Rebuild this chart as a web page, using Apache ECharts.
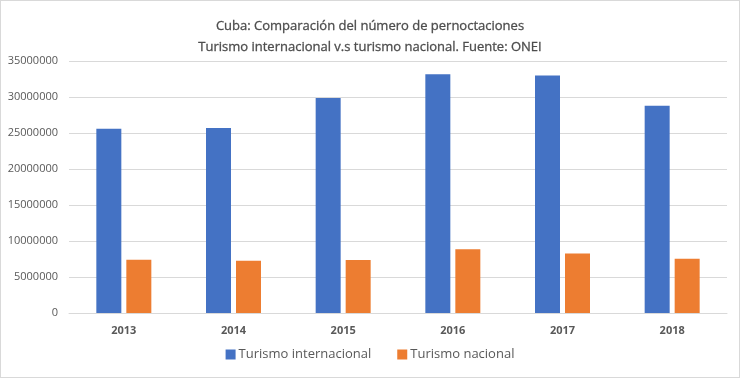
<!DOCTYPE html>
<html>
<head>
<meta charset="utf-8">
<script src="https://cdn.jsdelivr.net/npm/echarts@6/dist/echarts.min.js"></script>
<style>
  html, body { margin: 0; padding: 0; background: #fff; }
  #chart { width: 738px; height: 376px; border: 1px solid #d9d9d9; }
</style>
</head>
<body>
<div id="chart"></div>
<script>
// años
var years = ['2013', '2014', '2015', '2016', '2017', '2018'];
// pernoctaciones turismo internacional
var internacional = [25600000, 25700000, 29850000, 33150000, 33000000, 28800000];
// pernoctaciones turismo nacional
var nacional = [7400000, 7260000, 7350000, 8850000, 8270000, 7530000];
var seriesNames = ['Turismo internacional', 'Turismo nacional'];

var chartObj = echarts.init(document.getElementById('chart'));

var txtColor = '#595959';
var fontFam = '"Open Sans", "Noto Sans", sans-serif';

var option = {
	title: {
		text: 'Cuba: Comparación del número de pernoctaciones\nTurismo internacional v.s turismo nacional. Fuente: ONEI',
		left: 'center',
		top: 10,
		textStyle: {
			color: '#4d4d4d',
			fontSize: 13,
			fontWeight: 'normal',
			fontFamily: fontFam,
			lineHeight: 21,
			textBorderColor: '#4d4d4d',
			textBorderWidth: 0.3
		}
	},
	legend: {
		data: seriesNames,
		bottom: 11,
		left: 'center',
		itemWidth: 10,
		itemHeight: 10,
		itemGap: 26,
		icon: 'rect',
		textStyle: { color: txtColor, fontSize: 13, fontFamily: fontFam, padding: [0, 0, 0, -2] }
	},
	grid: { left: 68, right: 12, top: 60, bottom: 64, containLabel: false },
	xAxis: {
		type: 'category',
		data: years,
		axisLine: { lineStyle: { color: '#d9d9d9' } },
		axisTick: { show: false },
		axisLabel: { color: txtColor, fontSize: 11, fontWeight: 'bold', fontFamily: fontFam, margin: 12 }
	},
	yAxis: {
		type: 'value',
		min: 0,
		max: 35000000,
		interval: 5000000,
		axisLine: { show: false },
		axisTick: { show: false },
		splitLine: { lineStyle: { color: '#d9d9d9' } },
		axisLabel: {
			color: txtColor, fontSize: 11, fontFamily: fontFam, margin: 11,
			formatter: function (v) { return String(v); }
		}
	},
	series: [
		{
			name: seriesNames[0],
			type: 'bar',
			data: internacional,
			barWidth: 25,
			barGap: '20%',
			itemStyle: { color: '#4472c4' }
		},
		{
			name: seriesNames[1],
			type: 'bar',
			data: nacional,
			barWidth: 25,
			itemStyle: { color: '#ed7d31' }
		}
	]
};
chartObj.setOption(option);
</script>
</body>
</html>
